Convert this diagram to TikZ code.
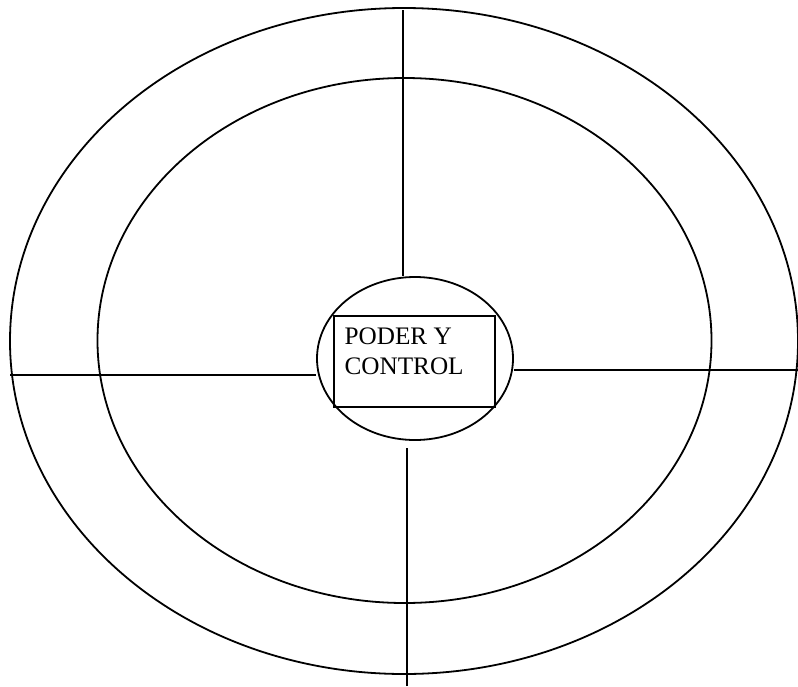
\documentclass[tikz,border=0pt]{standalone}
\usepackage{fontspec}
\setmainfont{Liberation Serif}
\usetikzlibrary{shapes.geometric, positioning, calc}
\tikzset{
  ring/.style={ellipse, draw=black, line width=0.9pt, inner sep=0pt},
  box/.style={rectangle, draw=black, line width=0.8pt, inner sep=0pt},
  boxtext/.style={inner sep=0pt, align=left, anchor=north west,
    font=\fontsize{12.6}{15}\selectfont},
  axis/.style={draw=black, line width=0.8pt},
}

\begin{document}
\begin{tikzpicture}[x=0.5pt, y=-0.5pt]
  \useasboundingbox (0,0) rectangle (798,686);

  % rings
  \node[ring, minimum width=788*0.5pt, minimum height=666*0.5pt] (outer) at (404,341) {};
  \node[ring, minimum width=614*0.5pt, minimum height=525*0.5pt] (inner) at (404.5,340.5) {};
  \node[ring, minimum width=196*0.5pt, minimum height=163*0.5pt] (core) at (415,358.5) {};

  % central box
  \node[box, minimum width=161*0.5pt, minimum height=91*0.5pt] (center) at (414.5,361.5) {};
  \node[boxtext] (title) at ($(center.north west)+(11,12)$) {PODER Y\\CONTROL};

  % free ends of the axes
  \coordinate (topend) at (403,10);
  \coordinate (botend) at (407,686);
  \coordinate (leftend) at (10,375);
  \coordinate (rightend) at (798,370);

  \draw[axis] (topend) -- (topend |- core.north);
  \draw[axis] (botend) -- ([yshift=-3.5pt]botend |- core.south);
  \draw[axis] (leftend) -- (leftend -| core.west);
  \draw[axis] (rightend) -- (rightend -| core.east);
\end{tikzpicture}
\end{document}
